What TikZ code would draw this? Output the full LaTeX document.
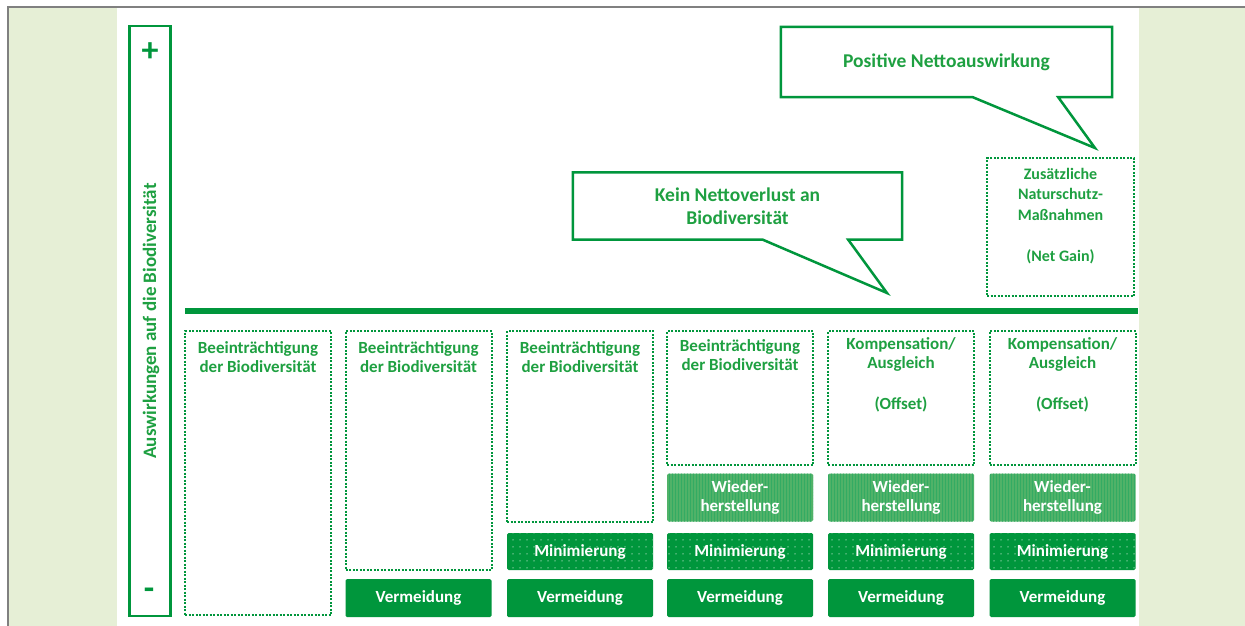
\documentclass[tikz,border=0pt]{standalone}
\usepackage{fontspec}
\setmainfont{Carlito}
\usetikzlibrary{positioning,patterns.meta}
\definecolor{natgreen}{RGB}{0,150,60}
\definecolor{txtgreen}{RGB}{30,160,65}
\definecolor{pagegreen}{RGB}{230,239,214}
\definecolor{restgreen}{RGB}{80,178,104}

\begin{document}
\begin{tikzpicture}[x=1pt, y=-1pt, font=\bfseries\fontsize{17}{19.5}\selectfont]
    \tikzstyle{impact} = [draw=natgreen, line width=2pt, dash pattern=on 2pt off 1.5pt, rectangle, minimum width=146pt, inner sep=0pt]
    \tikzstyle{boxtext} = [text=txtgreen, align=center, inner sep=0pt]
    \tikzstyle{stepfill} = [rectangle, rounded corners=1.5pt, minimum width=146pt, inner sep=0pt, text=white, align=center]
    \tikzstyle{avoid} = [stepfill, fill=natgreen, minimum height=38pt]
    \tikzstyle{minim} = [stepfill, minimum height=37pt, preaction={fill=natgreen}, pattern={Dots[distance=6.5pt, radius=0.8pt]}, pattern color=white!55!natgreen]
    \tikzstyle{restore} = [stepfill, minimum height=48pt, preaction={fill=restgreen}, pattern={Lines[angle=90, distance=3pt, line width=1pt]}, pattern color=natgreen!80!white]
    \tikzstyle{bubble} = [rectangle, text=txtgreen, align=center, font=\bfseries\fontsize{19.5}{23}\selectfont]
    \tikzstyle{bubbleline} = [draw=natgreen, line width=2.5pt, fill=white]

    \useasboundingbox (0,0) rectangle (1245,626);
    \fill[pagegreen] (8,7) rectangle (1245,626);
    \fill[white] (117,7) rectangle (1139,626);
    \draw[gray, line width=1.5pt] (8,626) -- (8,7) -- (1245,7);

    \node[draw=natgreen, line width=2.5pt, minimum width=41pt, minimum height=590pt] (axis) at (150,321) {};
    \node[text=natgreen, font=\bfseries\fontsize{34}{34}\selectfont] (plus) at (150,52) {+};
    \node[text=natgreen, font=\bfseries\fontsize{34}{34}\selectfont] (minus) at (149,594) {-};
    \node[text=txtgreen, rotate=90, font=\bfseries\fontsize{19}{22}\selectfont] (axislabel) at (151,321) {Auswirkungen auf die Biodiversität};

    \coordinate (base west) at (185,311);
    \coordinate (base east) at (1138,311);
    \draw[natgreen, line width=6pt] (base west) -- (base east);

    \node[impact, minimum height=284pt] (imp1) at (258,473) {};
    \node[impact, minimum height=239pt] (imp2) at (418.5,450.5) {};
    \node[impact, minimum height=191pt] (imp3) at (580,426.5) {};
    \node[impact, minimum height=134pt] (imp4) at (740,398) {};
    \node[impact, minimum height=134pt] (comp5) at (901,398) {};
    \node[impact, minimum height=134pt] (comp6) at (1062.5,398) {};

    \node[boxtext, below=11pt of imp1.north] (imptext1) {Beeinträchtigung\\der Biodiversität};
    \node[boxtext, below=11pt of imp2.north] (imptext2) {Beeinträchtigung\\der Biodiversität};
    \node[boxtext, below=11pt of imp3.north] (imptext3) {Beeinträchtigung\\der Biodiversität};
    \node[boxtext, below=9pt of imp4.north] (imptext4) {Beeinträchtigung\\der Biodiversität};
    \node[boxtext, below=7pt of comp5.north] (comptext5) {Kompensation/\\Ausgleich\\[21pt](Offset)};
    \node[boxtext, below=7pt of comp6.north] (comptext6) {Kompensation/\\Ausgleich\\[21pt](Offset)};

    \node[restore] (wied4) at (740,497.5) {Wieder-\\herstellung};
    \node[restore] (wied5) at (901,497.5) {Wieder-\\herstellung};
    \node[restore] (wied6) at (1062.5,497.5) {Wieder-\\herstellung};

    \node[minim] (mini3) at (580,551.5) {Minimierung};
    \node[minim] (mini4) at (740,551.5) {Minimierung};
    \node[minim] (mini5) at (901,551.5) {Minimierung};
    \node[minim] (mini6) at (1062.5,551.5) {Minimierung};

    \node[avoid] (verm2) at (418.5,598) {Vermeidung};
    \node[avoid] (verm3) at (580,598) {Vermeidung};
    \node[avoid] (verm4) at (740,598) {Vermeidung};
    \node[avoid] (verm5) at (901,598) {Vermeidung};
    \node[avoid] (verm6) at (1062.5,598) {Vermeidung};

    \node[impact, minimum width=147pt, minimum height=138pt] (gain) at (1060.5,227) {};
    \node[boxtext, below=11pt of gain.north, font=\bfseries\fontsize{16}{20.5}\selectfont] (gaintext) {Zusätzliche\\Naturschutz-\\Maßnahmen\\[20.5pt](Net Gain)};

    \coordinate (nolosstip) at (887,293);
    \coordinate (gaintip) at (1095,148);
    \node[bubble, minimum width=329pt, minimum height=67pt] (noloss) at (737.5,206) {};
    \draw[bubbleline] (noloss.south west) -- (noloss.north west) -- (noloss.north east) -- (noloss.south east) -- ([xshift=-54pt]noloss.south east) -- (nolosstip) -- ([xshift=190pt]noloss.south west) -- cycle;
    \node[bubble] (nolosstext) at (noloss.center) {Kein Nettoverlust an\\Biodiversität};
    \node[bubble, minimum width=331pt, minimum height=70pt] (positive) at (946.5,62) {};
    \draw[bubbleline] (positive.south west) -- (positive.north west) -- (positive.north east) -- (positive.south east) -- ([xshift=-54pt]positive.south east) -- (gaintip) -- ([xshift=192pt]positive.south west) -- cycle;
    \node[bubble] (positivetext) at (positive.center) {Positive Nettoauswirkung};
\end{tikzpicture}
\end{document}
